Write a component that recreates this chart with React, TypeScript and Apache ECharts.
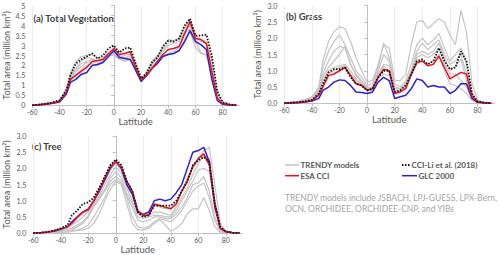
import React, { useEffect, useRef } from "react";
import * as echarts from "echarts";

const LAT = [-60,-55,-50,-45,-40,-35,-32,-28,-24,-20,-16,-12,-8,-4,0,4,8,12,16,20,24,28,32,36,40,44,48,52,56,60,64,68,72,76,80,85,90];

// (a) Total vegetation
const vegCCILi = [0,0.04,0.08,0.15,0.25,0.75,1.5,2.1,2.3,2.45,2.6,2.35,2.5,2.85,3.0,2.65,2.85,2.9,2.1,1.35,1.6,2.15,2.4,2.95,3.25,3.2,3.35,4.0,4.35,3.5,3.5,3.55,2.5,0.7,0.15,0.05,0];
const vegESA = [0,0.03,0.07,0.12,0.2,0.65,1.3,1.5,1.7,1.9,2.2,2.25,2.3,2.6,2.85,2.55,2.6,2.7,1.9,1.3,1.5,1.85,2.2,2.55,2.8,2.85,2.95,3.6,4.2,3.35,3.3,3.1,1.7,0.35,0.08,0.03,0];
const vegGLC = [0,0.02,0.05,0.1,0.17,0.55,1.15,1.3,1.55,1.65,2.0,2.05,2.15,2.45,2.75,2.4,2.35,2.3,1.75,1.2,1.5,1.85,2.1,2.45,2.55,2.6,2.75,3.2,3.75,3.2,3.05,2.8,1.3,0.25,0.05,0.01,0];
const vegM1 = [0,0.04,0.08,0.13,0.22,0.8,1.6,2.2,2.45,2.5,2.55,2.35,2.4,2.6,2.6,2.45,2.35,2.55,2.1,1.3,1.6,2.1,2.4,2.9,3.3,3.25,3.3,3.9,4.3,3.4,3.2,3.1,2.2,0.6,0.15,0.05,0];
const vegM2 = [0,0.03,0.07,0.12,0.2,0.75,1.5,1.8,2.1,2.2,2.3,2.2,2.3,2.55,2.7,2.4,2.5,2.6,2.05,1.25,1.7,2.2,2.5,2.8,3.1,3.2,3.4,3.9,4.1,3.3,3.0,2.8,2.0,0.5,0.12,0.04,0];
const vegM3 = [0,0.03,0.06,0.11,0.18,0.7,1.3,1.7,1.95,2.15,2.2,2.1,2.25,2.5,2.5,2.3,2.25,2.35,1.95,1.2,1.5,1.95,2.2,2.5,2.6,2.7,2.9,3.6,3.85,3.2,2.65,2.5,1.7,0.4,0.1,0.03,0];
const vegM4 = [0,0.04,0.08,0.14,0.24,0.85,1.4,1.85,2.25,2.4,2.35,2.2,2.35,2.55,2.65,2.5,2.4,2.45,2.05,1.3,1.65,2.05,2.35,2.7,3.0,3.1,3.2,3.7,4.0,3.5,3.3,3.2,2.3,0.55,0.14,0.05,0];
const vegM5 = [0,0.03,0.06,0.1,0.18,0.65,1.2,1.55,1.8,2.0,2.1,2.0,2.2,2.45,2.55,2.35,2.2,2.3,1.9,1.2,1.45,1.85,2.1,2.45,2.55,2.6,2.75,3.3,3.7,2.9,2.6,2.55,1.6,0.35,0.1,0.03,0];

// (b) Grass
const grassCCILi = [0,0.02,0.03,0.06,0.1,0.3,0.6,0.95,1.05,1.05,1.1,0.8,0.6,0.55,0.4,0.45,0.8,1.0,1.0,0.35,0.4,0.55,0.9,1.3,1.35,1.2,1.3,1.7,1.3,1.05,1.1,1.6,1.3,0.3,0.05,0.02,0];
const grassESA = [0,0.02,0.03,0.05,0.08,0.25,0.5,0.85,0.9,1.0,1.1,0.85,0.6,0.55,0.4,0.45,0.8,1.05,1.0,0.3,0.35,0.45,0.9,1.25,1.3,1.15,1.2,1.45,1.1,0.75,0.85,0.95,0.9,0.2,0.05,0.02,0];
const grassGLC = [0,0.01,0.02,0.04,0.07,0.15,0.4,0.5,0.65,0.72,0.7,0.55,0.35,0.33,0.3,0.35,0.65,0.8,0.7,0.15,0.2,0.25,0.45,0.75,0.7,0.5,0.55,0.5,0.5,0.3,0.4,0.6,0.6,0.15,0.03,0.01,0];
const grassM1 = [0,0.03,0.06,0.12,0.2,0.5,1.3,1.9,2.2,2.35,2.3,1.9,1.4,1.0,0.65,0.7,1.2,1.8,1.7,0.7,0.7,0.9,1.8,2.5,2.55,2.3,2.45,2.6,2.5,2.1,1.8,2.85,2.2,0.6,0.1,0.03,0];
const grassM2 = [0,0.03,0.05,0.1,0.17,0.45,1.1,1.6,1.9,2.1,1.8,1.4,1.0,0.8,0.55,0.6,1.1,1.85,1.4,0.6,0.5,0.7,1.2,1.8,2.0,1.8,1.95,2.15,1.7,1.3,1.5,1.7,1.2,0.3,0.06,0.02,0];
const grassM3 = [0,0.02,0.05,0.09,0.15,0.4,0.9,1.3,1.6,1.75,1.7,1.2,0.9,0.7,0.5,0.5,1.0,1.5,1.3,0.5,0.45,0.6,1.0,1.6,1.85,1.65,1.8,1.95,1.5,1.2,1.3,1.5,0.9,0.2,0.05,0.02,0];
const grassM4 = [0,0.02,0.04,0.08,0.14,0.35,0.8,1.1,1.3,1.5,1.75,1.2,0.85,0.65,0.45,0.5,0.9,1.2,1.15,0.45,0.45,0.6,1.0,1.5,1.6,1.5,1.6,1.85,1.4,1.0,1.15,1.35,0.7,0.15,0.04,0.01,0];
const grassM5 = [0,0.02,0.04,0.07,0.12,0.3,0.7,1.0,1.1,1.15,1.2,1.0,0.75,0.6,0.45,0.45,0.85,1.15,1.0,0.4,0.4,0.55,0.9,1.4,1.5,1.4,1.5,1.7,1.2,0.9,0.9,0.7,0.5,0.1,0.03,0.01,0];
const grassM6 = [0,0.02,0.03,0.06,0.1,0.25,0.6,0.9,1.0,1.1,1.15,0.9,0.7,0.55,0.4,0.4,0.75,0.9,0.85,0.35,0.35,0.5,0.85,1.2,1.3,1.2,1.3,1.5,1.0,0.6,0.55,0.45,0.3,0.08,0.02,0.01,0];

// (c) Tree
const treeCCILi = [0,0.01,0.04,0.08,0.15,0.25,0.55,0.7,0.9,0.95,1.1,1.4,1.75,2.1,2.28,2.1,1.6,1.3,0.65,0.5,0.55,0.85,0.85,0.85,0.85,1.0,1.3,1.6,2.1,2.25,2.35,2.2,0.9,0.2,0.05,0.01,0];
const treeESA = [0,0.01,0.03,0.07,0.13,0.2,0.3,0.5,0.65,0.72,1.0,1.35,1.7,2.05,2.2,2.05,1.6,1.3,0.7,0.55,0.55,0.9,0.85,0.8,0.75,0.9,1.3,1.6,2.05,2.3,2.45,2.1,0.8,0.15,0.04,0.01,0];
const treeGLC = [0,0.01,0.03,0.06,0.12,0.2,0.35,0.5,0.65,0.75,1.0,1.3,1.65,2.0,2.22,2.0,1.5,1.2,0.65,0.58,0.65,1.0,1.05,1.0,1.05,1.25,1.5,2.0,2.5,2.55,2.65,2.2,0.9,0.15,0.05,0.01,0];
const treeM1 = [0,0.01,0.03,0.06,0.1,0.2,0.3,0.45,0.6,0.7,0.95,1.25,1.6,1.95,2.15,1.95,1.5,1.2,0.7,0.55,0.6,0.85,0.8,0.75,0.8,0.95,1.3,1.7,2.0,2.3,2.55,2.65,1.5,0.3,0.05,0.01,0];
const treeM2 = [0,0.01,0.02,0.05,0.09,0.15,0.25,0.35,0.5,0.65,0.9,1.15,1.5,1.8,2.05,1.85,1.4,1.0,0.6,0.5,0.55,0.65,0.65,0.6,0.55,0.8,1.1,1.4,1.8,2.15,2.4,2.3,1.0,0.15,0.03,0.01,0];
const treeM3 = [0,0.01,0.02,0.04,0.07,0.12,0.15,0.25,0.35,0.55,0.85,1.1,1.35,1.7,1.9,1.7,1.25,0.9,0.5,0.45,0.5,0.55,0.55,0.5,0.5,0.7,1.0,1.3,1.6,1.95,2.0,1.9,0.9,0.1,0.02,0.01,0];
const treeM4 = [0,0.01,0.02,0.03,0.05,0.08,0.1,0.2,0.3,0.5,0.8,1.05,1.3,1.6,1.75,1.6,1.15,0.8,0.4,0.35,0.4,0.5,0.5,0.45,0.45,0.6,0.8,1.1,1.5,1.55,1.75,1.3,0.5,0.08,0.02,0.01,0];
const treeM5 = [0,0.01,0.01,0.02,0.03,0.05,0.08,0.1,0.15,0.25,0.5,0.8,1.1,1.5,1.65,1.55,1.1,0.5,0.2,0.15,0.2,0.35,0.45,0.4,0.35,0.5,0.7,1.0,1.3,1.45,1.55,1.1,0.4,0.05,0.01,0,0];
const treeM6 = [0,0,0.01,0.01,0.02,0.03,0.05,0.08,0.1,0.15,0.3,0.6,1.0,1.35,1.6,1.5,0.9,0.3,0.1,0.1,0.15,0.3,0.42,0.25,0.05,0.15,0.3,0.6,0.75,0.75,1.1,0.7,0.2,0.02,0,0,0];

const X_TICKS = [-60, -40, -20, 0, 20, 40, 60, 80];
const PANEL_TITLES = ["(a) Total Vegetation", "(b) Grass", "(c) Tree"];
const Y_NAME = "Total area (million km\u00B2)";
const X_NAME = "Latitude";
const LEGEND_NAMES = ["TRENDY models", "ESA CCI", "CCI-Li et al. (2018)", "GLC 2000"];
const NOTE_LINES = [
  "TRENDY models include JSBACH, LPJ-GUESS, LPX-Bern,",
  "OCN, ORCHIDEE, ORCHIDEE-CNP, and YIBs",
];

const FONT = 'Lato, "Open Sans", sans-serif';
const GRAY = "#c4c4c4";
const RED = "#e8141c";
const BLUE = "#2c1fd6";
const BLACK = "#111111";

export default function App() {
  const ref = useRef<HTMLDivElement>(null);
  useEffect(() => {
    if (!ref.current) return;
    const chart = echarts.init(ref.current, undefined, { renderer: "svg" });

    const grids = [
      { left: 32.3, top: 5.7, width: 206.7, height: 99.6 },
      { left: 284.3, top: 5.7, width: 209.8, height: 97.6 },
      { left: 33.3, top: 136, width: 209, height: 99 },
    ];
    const yMax = [5, 3, 3];
    const yGap = [21, 22, 22];

    const xAxes = grids.map((_, i) => ({
      type: "value",
      gridIndex: i,
      min: -60,
      max: 92,
      interval: 20,
      name: X_NAME,
      nameLocation: "middle",
      nameGap: 10,
      nameTextStyle: { fontFamily: FONT, fontSize: 9.5, color: "#595959" },
      axisLine: { show: true, onZero: false, lineStyle: { color: "#bfbfbf", width: 1 } },
      axisTick: { show: true, length: 3, lineStyle: { color: "#bfbfbf" } },
      axisLabel: {
        fontFamily: FONT,
        fontSize: 7,
        color: "#595959",
        margin: 3,
        showMaxLabel: false,
        formatter: (v: number) => (X_TICKS.includes(v) ? String(v) : ""),
      },
      splitLine: { show: true, showMaxLine: false, lineStyle: { color: "#ececec", width: 1 } },
    }));

    const yAxes = grids.map((_, i) => ({
      type: "value",
      gridIndex: i,
      min: 0,
      max: yMax[i],
      interval: 0.5,
      name: Y_NAME,
      nameLocation: "middle",
      nameGap: yGap[i],
      nameRotate: 90,
      nameTextStyle: { fontFamily: FONT, fontSize: 9, color: "#595959" },
      axisLine: { show: true, lineStyle: { color: "#bfbfbf", width: 1 } },
      axisTick: { show: true, length: 3, lineStyle: { color: "#bfbfbf" } },
      axisLabel: {
        fontFamily: FONT,
        fontSize: 7,
        color: "#595959",
        margin: 7,
        formatter: (v: number) => (i === 0 ? String(v) : v.toFixed(1)),
      },
      splitLine: { show: false },
    }));

    const panels = [
      { models: [vegM1, vegM2, vegM3, vegM4, vegM5], esa: vegESA, li: vegCCILi, glc: vegGLC },
      { models: [grassM1, grassM2, grassM3, grassM4, grassM5, grassM6], esa: grassESA, li: grassCCILi, glc: grassGLC },
      { models: [treeM1, treeM2, treeM3, treeM4, treeM5, treeM6], esa: treeESA, li: treeCCILi, glc: treeGLC },
    ];

    const mk = (name: string, vals: number[], g: number, lineStyle: any, z: number) => ({
      type: "line",
      name,
      xAxisIndex: g,
      yAxisIndex: g,
      data: LAT.map((x, k) => [x, vals[k]]),
      showSymbol: false,
      symbol: "none",
      silent: true,
      z,
      lineStyle,
    });

    const series: any[] = [];
    panels.forEach((p, g) => {
      p.models.forEach((m) => series.push(mk(LEGEND_NAMES[0], m, g, { color: GRAY, width: 1.2 }, 2)));
      series.push(mk(LEGEND_NAMES[3], p.glc, g, { color: BLUE, width: 1.5 }, 3));
      series.push(mk(LEGEND_NAMES[1], p.esa, g, { color: RED, width: 1.5 }, 4));
      series.push(mk(LEGEND_NAMES[2], p.li, g, { color: BLACK, width: 1.8, type: [1.5, 1.5] }, 5));
    });

    const titleStyle = { fontFamily: FONT, fontSize: 9.5, fontWeight: "bold", fill: "#404040", verticalAlign: "middle" };
    const legText = { fontFamily: FONT, fontSize: 8, fontWeight: "bold", fill: "#595959", verticalAlign: "middle" };
    const noteText = { fontFamily: FONT, fontSize: 8.5, fill: "#a6a6a6", verticalAlign: "middle" };

    const graphic: any[] = [
      { type: "text", x: 33.5, y: 18.3, style: { ...titleStyle, text: PANEL_TITLES[0] } },
      { type: "text", x: 286, y: 16, style: { ...titleStyle, text: PANEL_TITLES[1] } },
      { type: "text", x: 32, y: 146, style: { ...titleStyle, text: PANEL_TITLES[2] } },
      { type: "line", shape: { x1: 285, y1: 165, x2: 299, y2: 165 }, style: { stroke: GRAY, lineWidth: 1.5 } },
      { type: "text", x: 300.5, y: 165, style: { ...legText, text: LEGEND_NAMES[0] } },
      { type: "line", shape: { x1: 285, y1: 175.7, x2: 299, y2: 175.7 }, style: { stroke: RED, lineWidth: 1.5 } },
      { type: "text", x: 300.5, y: 175.7, style: { ...legText, text: LEGEND_NAMES[1] } },
      { type: "line", shape: { x1: 402, y1: 165, x2: 410, y2: 165 }, style: { stroke: BLACK, lineWidth: 1.8, lineDash: [1.5, 1.5] } },
      { type: "text", x: 411.5, y: 165, style: { ...legText, text: LEGEND_NAMES[2] } },
      { type: "line", shape: { x1: 402, y1: 175.7, x2: 417, y2: 175.7 }, style: { stroke: BLUE, lineWidth: 1.5 } },
      { type: "text", x: 418.5, y: 175.7, style: { ...legText, text: LEGEND_NAMES[3] } },
      { type: "text", x: 285, y: 197.7, style: { ...noteText, text: NOTE_LINES[0] } },
      { type: "text", x: 285, y: 208.5, style: { ...noteText, text: NOTE_LINES[1] } },
    ];

    chart.setOption({
      animation: false,
      backgroundColor: "#ffffff",
      grid: grids.map((g) => ({ ...g, containLabel: false })),
      xAxis: xAxes,
      yAxis: yAxes,
      series,
      graphic,
    });
    return () => chart.dispose();
  }, []);

  return (
    <div
      ref={ref}
      style={{ position: "fixed", left: 0, top: 0, width: 500, height: 255, background: "#fff" }}
    />
  );
}
